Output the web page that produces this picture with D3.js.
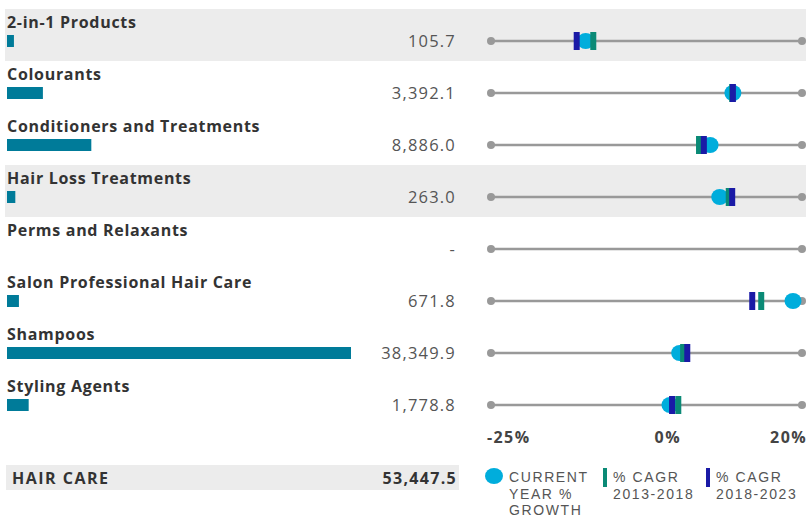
<!DOCTYPE html>
<html>
<head>
<meta charset="utf-8">
<script src="https://cdn.jsdelivr.net/npm/d3@7"></script>
<style>
  body { margin: 0; background: #fff; }
  svg text { font-family: "Open Sans", sans-serif; }
  svg .legend text { font-family: "Liberation Sans", Arial, sans-serif; }
</style>
</head>
<body>
<div id="chart"></div>
<script>
var categories = ["2-in-1 Products", "Colourants", "Conditioners and Treatments", "Hair Loss Treatments",
    "Perms and Relaxants", "Salon Professional Hair Care", "Shampoos", "Styling Agents"];
var sales = [105.7, 3392.1, 8886.0, 263.0, null, 671.8, 38349.9, 1778.8];
var growth = [-11.3, 10.0, 6.7, 8.1, null, 18.7, 2.3, 0.9];
var cagr1318 = [-10.2, 9.9, 5.1, 9.4, null, 14.1, 2.8, 2.1];
var cagr1823 = [-12.6, 10.0, 5.8, 9.9, null, 12.8, 3.4, 1.2];
var ticks = [-25, 0, 20];
var totalLabel = "HAIR CARE", totalValue = 53447.5;

var width = 806, height = 519;
var rowTop = 9, rowH = 52;

var svg = d3.select("#chart").append("svg")
    .attr("width", width)
    .attr("height", height);

var fmt = d3.format(",.1f");

var barX = d3.scaleLinear()
    .domain([0, d3.max(sales)])
    .range([6, 344]);

var gx = d3.scaleLinear()
    .domain([-25, 20])
    .range([491, 802]);

var rows = svg.selectAll("g.row")
    .data(categories)
    .enter().append("g")
    .attr("class", "row")
    .attr("transform", function(d, i){ return "translate(0," + (rowTop + i*rowH) + ")"; });

// shaded rows
rows.filter(function(d, i){ return i == 0 || i == 3; })
    .append("rect")
    .attr("x", 5)
    .attr("y", 0)
    .attr("width", width - 5)
    .attr("height", rowH)
    .attr("fill", "#ececec");

rows.append("text")
    .attr("x", 7)
    .attr("y", 19)
    .attr("fill", "#333")
    .attr("font-size", "16px")
    .attr("font-weight", 700)
    .attr("letter-spacing", "0.7px")
    .text(function(d){ return d; });

rows.filter(function(d, i){ return sales[i] != null; })
    .append("rect")
    .attr("x", 7)
    .attr("y", 26)
    .attr("height", 12)
    .attr("width", function(d){ return barX(sales[categories.indexOf(d)]); })
    .attr("fill", "#007b99");

rows.append("text")
    .attr("x", 456)
    .attr("y", 38)
    .attr("text-anchor", "end")
    .attr("fill", "#555")
    .attr("font-size", "16.5px")
    .attr("letter-spacing", "1.2px")
    .text(function(d, i){ return sales[i] == null ? "-" : fmt(sales[i]); });

// dot plot lines
rows.append("line")
    .attr("x1", gx(-25))
    .attr("x2", gx(20))
    .attr("y1", 32)
    .attr("y2", 32)
    .attr("stroke", "#999")
    .attr("stroke-width", 2.5);

rows.selectAll("circle.end")
    .data(gx.domain())
    .enter().append("circle")
    .attr("class", "end")
    .attr("cx", function(d){ return gx(d); })
    .attr("cy", 32)
    .attr("r", 4)
    .attr("fill", "#999");

rows.filter(function(d, i){ return growth[i] != null; })
    .append("ellipse")
    .attr("cx", function(d){ return gx(growth[categories.indexOf(d)]); })
    .attr("cy", 32)
    .attr("rx", 8.5)
    .attr("ry", 8)
    .attr("fill", "#00addc");

rows.filter(function(d, i){ return cagr1318[i] != null; })
    .append("rect")
    .attr("x", function(d){ return gx(cagr1318[categories.indexOf(d)]) - 3; })
    .attr("y", 23)
    .attr("width", 6)
    .attr("height", 18)
    .attr("fill", "#0b8a76");

rows.filter(function(d, i){ return cagr1823[i] != null; })
    .append("rect")
    .attr("x", function(d){ return gx(cagr1823[categories.indexOf(d)]) - 3; })
    .attr("y", 23)
    .attr("width", 6)
    .attr("height", 18)
    .attr("fill", "#1a1aa6");

// axis labels
svg.selectAll("text.tick")
    .data(ticks)
    .enter().append("text")
    .attr("class", "tick")
    .attr("x", function(d, i){ return i == 0 ? 487 : (i == ticks.length-1 ? 807 : gx(d) + 4); })
    .attr("y", 443)
    .attr("text-anchor", function(d, i){ return i == 0 ? "start" : (i == ticks.length-1 ? "end" : "middle"); })
    .attr("fill", "#444")
    .attr("font-size", "16px")
    .attr("font-weight", 700)
    .attr("letter-spacing", "1.4px")
    .text(function(d){ return d + "%"; });

// total row
svg.append("rect")
    .attr("x", 6)
    .attr("y", 465)
    .attr("width", 453)
    .attr("height", 25)
    .attr("fill", "#ececec");

svg.append("text")
    .attr("x", 12)
    .attr("y", 484)
    .attr("fill", "#333")
    .attr("font-size", "16px")
    .attr("font-weight", 700)
    .attr("letter-spacing", "1.5px")
    .text(totalLabel);

svg.append("text")
    .attr("x", 457)
    .attr("y", 484)
    .attr("text-anchor", "end")
    .attr("fill", "#333")
    .attr("font-size", "16px")
    .attr("font-weight", 700)
    .attr("letter-spacing", "1.3px")
    .text(fmt(totalValue));

// legend
var legend = svg.append("g").attr("class", "legend");

legend.append("ellipse")
    .attr("cx", 494).attr("cy", 476)
    .attr("rx", 9).attr("ry", 8)
    .attr("fill", "#00addc");

legend.append("rect")
    .attr("x", 603).attr("y", 468)
    .attr("width", 4).attr("height", 19)
    .attr("fill", "#0b8a76");

legend.append("rect")
    .attr("x", 706).attr("y", 468)
    .attr("width", 4).attr("height", 19)
    .attr("fill", "#1a1aa6");

var legendText = [
    { x: 509, lines: ["CURRENT", "YEAR %", "GROWTH"] },
    { x: 613, lines: ["% CAGR", "2013-2018"] },
    { x: 716, lines: ["% CAGR", "2018-2023"] }
];

legendText.forEach(function(l){
    var t = legend.append("text")
        .attr("y", 482)
        .attr("fill", "#555")
        .attr("font-size", "14px")
        .attr("letter-spacing", "1.6px");
    l.lines.forEach(function(s, j){
        t.append("tspan")
            .attr("x", l.x)
            .attr("dy", j == 0 ? 0 : 16.5)
            .text(s);
    });
});
</script>
</body>
</html>
